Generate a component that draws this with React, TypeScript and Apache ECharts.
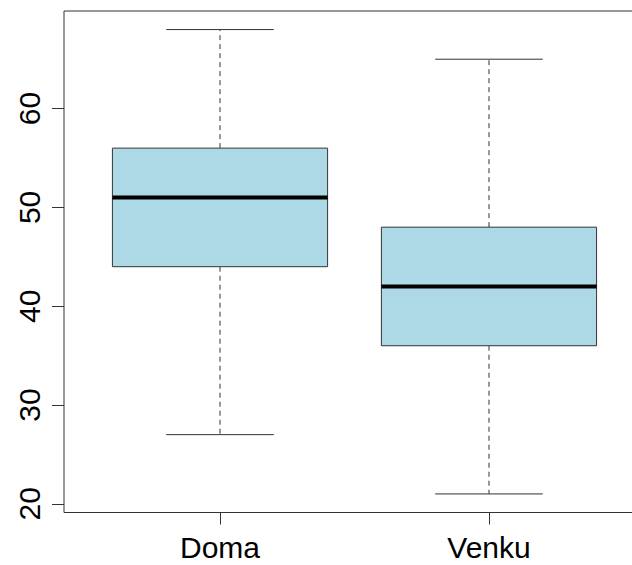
import React, { useEffect, useRef } from "react";
import * as echarts from "echarts";

const categories = ["Doma", "Venku"];
// [min, q1, median, q3, max]
const boxValues = [
  [27, 44, 51, 56, 68],
  [21, 36, 42, 48, 65],
];
const yTicks = [20, 30, 40, 50, 60];

export default function App() {
  const ref = useRef<HTMLDivElement>(null);
  useEffect(() => {
    if (!ref.current) return;
    const chart = echarts.init(ref.current, null, { renderer: "svg" });
    const data = boxValues.map((v, i) => [i + 1, ...v]);
    const font = "'Liberation Sans', Arial, sans-serif";
    chart.setOption({
      animation: false,
      backgroundColor: "#ffffff",
      grid: {
        left: 64,
        top: 11,
        width: 581,
        height: 501.5,
        show: true,
        borderColor: "#333",
        borderWidth: 1,
        backgroundColor: "transparent",
      },
      xAxis: {
        type: "value",
        min: 0.42,
        max: 2.58,
        axisLine: { show: false },
        splitLine: { show: false },
        axisTick: {
          show: true,
          length: 12,
          customValues: [1, 2],
          lineStyle: { color: "#333", width: 1 },
        },
        axisLabel: {
          customValues: [1, 2],
          formatter: (v: number) => categories[Math.round(v) - 1] ?? "",
          fontSize: 30,
          fontFamily: font,
          color: "#000",
          margin: 20,
        },
      },
      yAxis: {
        type: "value",
        min: 19.12,
        max: 69.88,
        axisLine: { show: false },
        splitLine: { show: false },
        axisTick: {
          show: true,
          length: 12,
          customValues: yTicks,
          lineStyle: { color: "#333", width: 1 },
        },
        axisLabel: {
          customValues: yTicks,
          rotate: 90,
          fontSize: 30,
          fontFamily: font,
          color: "#000",
          margin: 20,
        },
      },
      series: [
        {
          type: "custom",
          data,
          encode: { x: 0, y: [1, 2, 3, 4, 5] },
          renderItem: (params: any, api: any) => {
            const x = api.value(0);
            const mn = api.coord([x, api.value(1)]);
            const q1 = api.coord([x, api.value(2)]);
            const md = api.coord([x, api.value(3)]);
            const q3 = api.coord([x, api.value(4)]);
            const mx = api.coord([x, api.value(5)]);
            const bw = api.size([0.8, 0])[0];
            const cw = bw / 2;
            const cx = mn[0];
            const lineStyle = { stroke: "#333", lineWidth: 1 };
            const dashStyle = { stroke: "#333", lineWidth: 1, lineDash: [5, 4] };
            return {
              type: "group",
              children: [
                {
                  type: "line",
                  shape: { x1: cx, y1: q3[1], x2: cx, y2: mx[1] },
                  style: dashStyle,
                },
                {
                  type: "line",
                  shape: { x1: cx, y1: q1[1], x2: cx, y2: mn[1] },
                  style: dashStyle,
                },
                {
                  type: "line",
                  shape: { x1: cx - cw / 2, y1: mx[1], x2: cx + cw / 2, y2: mx[1] },
                  style: lineStyle,
                },
                {
                  type: "line",
                  shape: { x1: cx - cw / 2, y1: mn[1], x2: cx + cw / 2, y2: mn[1] },
                  style: lineStyle,
                },
                {
                  type: "rect",
                  shape: { x: cx - bw / 2, y: q3[1], width: bw, height: q1[1] - q3[1] },
                  style: { fill: "#ADD8E6", stroke: "#333", lineWidth: 1 },
                },
                {
                  type: "line",
                  shape: { x1: cx - bw / 2, y1: md[1], x2: cx + bw / 2, y2: md[1] },
                  style: { stroke: "#000", lineWidth: 4 },
                },
              ],
            };
          },
        },
      ],
    });
    return () => chart.dispose();
  }, []);
  return (
    <div
      style={{
        position: "fixed",
        left: 0,
        top: 0,
        width: 632,
        height: 565,
        overflow: "hidden",
        background: "#fff",
      }}
    >
      <div ref={ref} style={{ width: 660, height: 565 }} />
    </div>
  );
}
